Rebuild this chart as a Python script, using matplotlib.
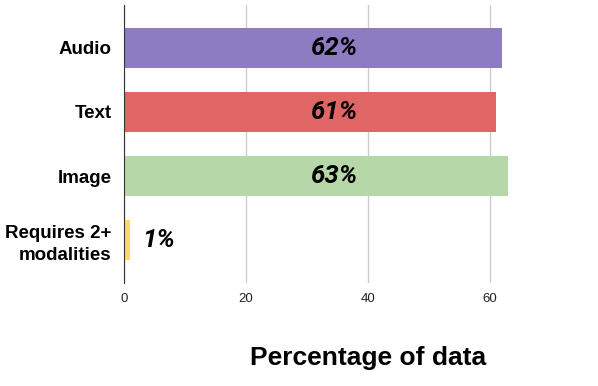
import matplotlib
matplotlib.use("Agg")
import matplotlib.pyplot as plt

# data
categories = ["Audio", "Text", "Image", "Requires 2+\nmodalities"]
values = [62, 61, 63, 1]
labels = ["62%", "61%", "63%", "1%"]
colors = ["#8e7cc3", "#e06666", "#b6d7a8", "#ffd966"]
xticks = [0, 20, 40, 60]

plt.rcParams['font.family'] = ['Liberation Sans', 'DejaVu Sans']

fig = plt.figure(figsize=(5.98, 3.86), dpi=100)
ax = fig.add_axes([124/598, 103/386, 436/598, 278/386])

ypos = list(range(len(categories)))
ax.barh(ypos, values, height=0.625, color=colors, zorder=2)

for y, v, lab in zip(ypos, values, labels):
    if v > 10:
        x = 30.5
    else:
        x = v + 2.0
    ax.text(x, y, lab, ha="left", va="center", fontsize=18.5,
            fontweight="bold", fontstyle="italic", family="Roboto", zorder=3)

ax.set_xlim(0, 71.5)
ax.set_ylim(3.67, -0.67)
ax.set_yticks(ypos)
ax.set_yticklabels(categories, fontsize=13.5, fontweight="bold", linespacing=1.35)
ax.set_xticks(xticks)
ax.tick_params(axis="x", labelsize=9.5, length=0, pad=7, labelcolor="#222222")
ax.tick_params(axis="y", length=0, pad=9)
ax.grid(axis="x", color="#cccccc", linewidth=1, zorder=0)

for s in ["top", "right", "bottom"]:
    ax.spines[s].set_visible(False)
ax.spines["left"].set_color("#333333")
ax.spines["left"].set_zorder(3)

fig.text(368/598, 1 - 358/386, "Percentage of data", ha="center", va="center",
         fontsize=19, fontweight="bold")

fig.savefig("out.png", dpi=100)
